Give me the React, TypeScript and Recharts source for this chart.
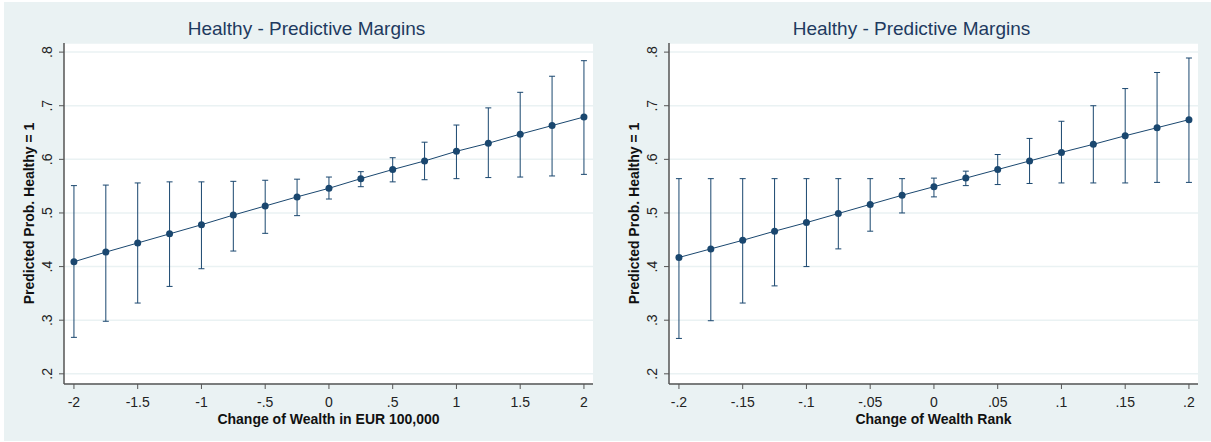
import { ComposedChart, Line, XAxis, YAxis, CartesianGrid, ErrorBar, Label } from 'recharts';

const TITLE = 'Healthy - Predictive Margins';
const Y_TITLE = 'Predicted Prob. Healthy = 1';

// left panel: change of wealth in EUR 100,000
const wealthChange = [-2, -1.75, -1.5, -1.25, -1, -0.75, -0.5, -0.25, 0, 0.25, 0.5, 0.75, 1, 1.25, 1.5, 1.75, 2];
const wealthMargin = [0.409, 0.427, 0.444, 0.461, 0.478, 0.496, 0.513, 0.530, 0.546, 0.564, 0.581, 0.597, 0.615, 0.630, 0.647, 0.663, 0.679];
const wealthLower = [0.268, 0.298, 0.332, 0.363, 0.396, 0.429, 0.462, 0.495, 0.526, 0.549, 0.558, 0.562, 0.564, 0.566, 0.567, 0.569, 0.572];
const wealthUpper = [0.551, 0.552, 0.556, 0.558, 0.558, 0.559, 0.561, 0.563, 0.567, 0.577, 0.603, 0.632, 0.664, 0.696, 0.725, 0.755, 0.784];
const wealthTicks = [-2, -1.5, -1, -0.5, 0, 0.5, 1, 1.5, 2];

// right panel: change of wealth rank
const rankChange = [-0.2, -0.175, -0.15, -0.125, -0.1, -0.075, -0.05, -0.025, 0, 0.025, 0.05, 0.075, 0.1, 0.125, 0.15, 0.175, 0.2];
const rankMargin = [0.417, 0.433, 0.449, 0.466, 0.482, 0.499, 0.516, 0.533, 0.549, 0.565, 0.581, 0.597, 0.613, 0.628, 0.644, 0.659, 0.674];
const rankLower = [0.266, 0.299, 0.332, 0.364, 0.400, 0.433, 0.466, 0.500, 0.530, 0.551, 0.553, 0.555, 0.556, 0.556, 0.556, 0.557, 0.557];
const rankUpper = [0.564, 0.564, 0.564, 0.564, 0.564, 0.564, 0.564, 0.564, 0.565, 0.578, 0.609, 0.639, 0.671, 0.700, 0.732, 0.762, 0.789];
const rankTicks = [-0.2, -0.15, -0.1, -0.05, 0, 0.05, 0.1, 0.15, 0.2];

const yTicks = [0.2, 0.3, 0.4, 0.5, 0.6, 0.7, 0.8];

const NAVY = '#1a476f';
const AXIS = '#555';
const FONT = '"Liberation Sans", Arial, sans-serif';

const fmt = (v: number) => String(Math.round(v * 1000) / 1000).replace(/^(-?)0\./, '$1.');

function rows(xs: number[], p: number[], lo: number[], hi: number[]) {
  return xs.map((x, i) => ({ x, p: p[i], err: [p[i] - lo[i], hi[i] - p[i]] }));
}

const XTick = ({ x, y, payload }: any) => (
  <text x={x} y={y + 16} textAnchor="middle" fontSize={14} fill="#222" fontFamily={FONT}>
    {fmt(payload.value)}
  </text>
);

const YTick = ({ x, y, payload }: any) => (
  <text
    x={x - 5}
    y={y}
    textAnchor="middle"
    fontSize={14}
    fill="#222"
    fontFamily={FONT}
    transform={`rotate(-90, ${x - 5}, ${y})`}
  >
    {fmt(payload.value)}
  </text>
);

function Panel({ data, ticks, domain, xTitle }: { data: any[]; ticks: number[]; domain: number[]; xTitle: string }) {
  return (
    <div style={{ position: 'relative', width: 605, height: 442 }}>
      <div
        style={{
          position: 'absolute',
          left: 0,
          width: 613,
          top: 18,
          textAlign: 'center',
          fontFamily: FONT,
          fontSize: 19,
          color: '#1e3a5f',
          lineHeight: '22px',
        }}
      >
        {TITLE}
      </div>
      <ComposedChart width={605} height={442} data={data} margin={{ top: 43, right: 12, bottom: 28, left: 0 }}>
        <CartesianGrid fill="#fff" vertical={false} stroke="#eaf2f3" strokeWidth={1.5} />
        <XAxis
          dataKey="x"
          type="number"
          domain={domain}
          ticks={ticks}
          allowDataOverflow
          height={30}
          tick={<XTick />}
          tickSize={5}
          axisLine={{ stroke: AXIS, strokeWidth: 1.5 }}
          tickLine={{ stroke: AXIS }}
        >
          <Label
            value={xTitle}
            position="bottom"
            offset={0}
            style={{ fontFamily: FONT, fontSize: 14, fontWeight: 'bold', fill: '#111' }}
          />
        </XAxis>
        <YAxis
          type="number"
          domain={[0.181, 0.817]}
          ticks={yTicks}
          allowDataOverflow
          width={64}
          tick={<YTick />}
          tickSize={5}
          axisLine={{ stroke: AXIS, strokeWidth: 1.5 }}
          tickLine={{ stroke: AXIS }}
        >
          <Label
            value={Y_TITLE}
            angle={-90}
            position="center"
            dx={-3}
            style={{ fontFamily: FONT, fontSize: 14, fontWeight: 'bold', fill: '#111', textAnchor: 'middle' }}
          />
        </YAxis>
        <Line
          dataKey="p"
          stroke={NAVY}
          strokeWidth={1}
          dot={{ r: 3.5, fill: NAVY, stroke: NAVY, strokeWidth: 0 }}
          activeDot={false}
          isAnimationActive={false}
        >
          <ErrorBar dataKey="err" direction="y" width={3} stroke={NAVY} strokeWidth={1} isAnimationActive={false} />
        </Line>
      </ComposedChart>
    </div>
  );
}

export default function App() {
  return (
    <div style={{ position: 'absolute', left: 0, top: 0, width: 1211, height: 442, background: '#fff' }}>
      <div style={{ position: 'absolute', left: 4, top: 2, width: 1207, height: 439, background: '#eaf2f3' }} />
      <div style={{ position: 'absolute', left: 0, top: 0 }}>
        <Panel
          data={rows(wealthChange, wealthMargin, wealthLower, wealthUpper)}
          ticks={wealthTicks}
          domain={[-2.078, 2.071]}
          xTitle="Change of Wealth in EUR 100,000"
        />
      </div>
      <div style={{ position: 'absolute', left: 605, top: 0 }}>
        <Panel
          data={rows(rankChange, rankMargin, rankLower, rankUpper)}
          ticks={rankTicks}
          domain={[-0.2078, 0.2071]}
          xTitle="Change of Wealth Rank"
        />
      </div>
    </div>
  );
}
